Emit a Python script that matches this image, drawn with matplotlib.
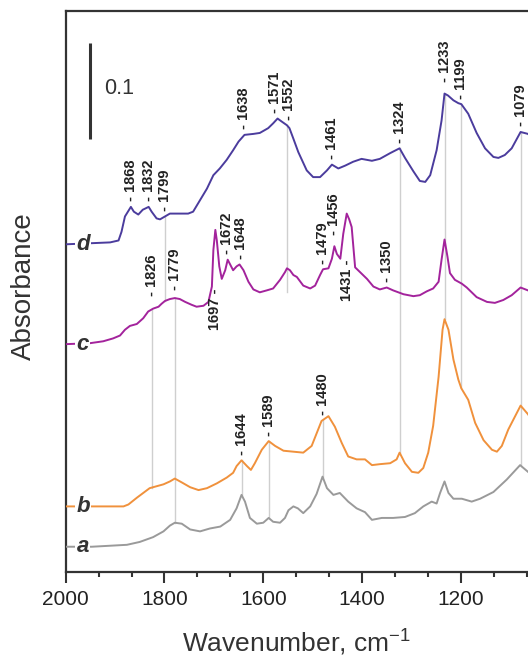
import matplotlib
matplotlib.use('Agg')
import matplotlib.pyplot as plt
import numpy as np
from matplotlib.ticker import MultipleLocator, AutoMinorLocator

plt.rcParams['font.family'] = ['Liberation Sans', 'DejaVu Sans']
plt.rcParams['mathtext.fontset'] = 'custom'
plt.rcParams['mathtext.rm'] = 'Liberation Sans'

# spectra (wavenumber, cm-1 / absorbance above own baseline)
wn_a = [2000, 1947, 1876, 1850, 1823, 1802, 1789, 1779, 1765, 1748,
        1728, 1708, 1687, 1667, 1654, 1644, 1637, 1627, 1613, 1600,
        1589, 1580, 1566, 1556, 1549, 1539, 1530, 1519, 1505, 1492,
        1480, 1471, 1458, 1445, 1428, 1411, 1394, 1380, 1360, 1337,
        1313, 1293, 1276, 1259, 1249, 1242, 1233, 1225, 1215, 1198,
        1178, 1161, 1134, 1107, 1080, 1064, 1050]
abs_a = [0, 0, 0.002, 0.005, 0.010, 0.016, 0.022, 0.025, 0.024, 0.018,
         0.016, 0.019, 0.021, 0.028, 0.040, 0.054, 0.047, 0.030, 0.024, 0.025,
         0.030, 0.026, 0.025, 0.030, 0.038, 0.042, 0.040, 0.035, 0.042, 0.055,
         0.073, 0.061, 0.054, 0.056, 0.047, 0.040, 0.036, 0.028, 0.030, 0.030,
         0.031, 0.035, 0.042, 0.047, 0.045, 0.056, 0.068, 0.056, 0.050, 0.050,
         0.047, 0.050, 0.057, 0.070, 0.085, 0.078, 0.072]

wn_b = [2000, 1947, 1883, 1873, 1856, 1843, 1830, 1816, 1802, 1789,
        1779, 1765, 1748, 1731, 1714, 1694, 1674, 1661, 1654, 1644,
        1633, 1625, 1617, 1603, 1589, 1576, 1559, 1539, 1519, 1502,
        1492, 1482, 1468, 1455, 1441, 1428, 1411, 1394, 1380, 1364,
        1343, 1330, 1324, 1313, 1299, 1286, 1276, 1266, 1256, 1245,
        1237, 1233, 1225, 1215, 1205, 1199, 1185, 1171, 1154, 1137,
        1127, 1117, 1104, 1090, 1079, 1064, 1050]
abs_b = [0, 0, 0, 0.002, 0.009, 0.014, 0.019, 0.021, 0.023, 0.026,
         0.029, 0.025, 0.020, 0.017, 0.019, 0.024, 0.030, 0.035, 0.042, 0.048,
         0.042, 0.038, 0.045, 0.059, 0.068, 0.063, 0.058, 0.057, 0.056, 0.063,
         0.076, 0.089, 0.094, 0.083, 0.066, 0.052, 0.049, 0.049, 0.043, 0.044,
         0.045, 0.049, 0.056, 0.045, 0.036, 0.035, 0.040, 0.056, 0.084, 0.135,
         0.184, 0.195, 0.184, 0.153, 0.132, 0.123, 0.111, 0.087, 0.069, 0.059,
         0.057, 0.063, 0.080, 0.094, 0.105, 0.096, 0.085]

wn_c = [2000, 1951, 1924, 1904, 1890, 1880, 1870, 1856, 1843, 1833,
        1823, 1812, 1806, 1799, 1789, 1779, 1769, 1758, 1745, 1735,
        1721, 1711, 1704, 1701, 1697, 1694, 1689, 1684, 1677, 1672,
        1666, 1661, 1654, 1648, 1640, 1630, 1620, 1607, 1593, 1580,
        1566, 1556, 1552, 1546, 1539, 1532, 1519, 1505, 1495, 1485,
        1479, 1468, 1461, 1456, 1451, 1444, 1438, 1431, 1426, 1421,
        1414, 1404, 1390, 1377, 1364, 1350, 1337, 1316, 1296, 1283,
        1269, 1256, 1245, 1239, 1233, 1227, 1222, 1212, 1198, 1188,
        1168, 1147, 1131, 1114, 1097, 1079, 1064, 1050]
abs_c = [0, 0.001, 0.003, 0.006, 0.009, 0.015, 0.019, 0.021, 0.027, 0.034,
         0.037, 0.039, 0.042, 0.045, 0.047, 0.048, 0.047, 0.044, 0.041, 0.039,
         0.040, 0.044, 0.060, 0.098, 0.119, 0.108, 0.081, 0.068, 0.077, 0.088,
         0.082, 0.077, 0.081, 0.083, 0.077, 0.065, 0.057, 0.054, 0.056, 0.058,
         0.067, 0.075, 0.079, 0.077, 0.072, 0.070, 0.061, 0.058, 0.061, 0.072,
         0.078, 0.079, 0.089, 0.102, 0.094, 0.089, 0.115, 0.136, 0.130, 0.122,
         0.080, 0.075, 0.068, 0.060, 0.057, 0.059, 0.056, 0.052, 0.050, 0.051,
         0.055, 0.058, 0.065, 0.088, 0.109, 0.091, 0.074, 0.067, 0.063, 0.059,
         0.049, 0.044, 0.043, 0.046, 0.051, 0.059, 0.056, 0.052]

wn_d = [2000, 1910, 1893, 1887, 1880, 1868, 1862, 1853, 1844, 1832,
        1826, 1816, 1809, 1799, 1789, 1769, 1752, 1742, 1728, 1714,
        1701, 1688, 1674, 1661, 1650, 1638, 1620, 1607, 1590, 1580,
        1571, 1563, 1552, 1547, 1539, 1529, 1512, 1499, 1485, 1471,
        1461, 1448, 1434, 1418, 1401, 1380, 1364, 1343, 1324, 1313,
        1296, 1283, 1272, 1262, 1249, 1239, 1233, 1226, 1215, 1205,
        1199, 1185, 1168, 1151, 1134, 1124, 1111, 1097, 1079, 1064,
        1050]
abs_d = [0, 0.002, 0.004, 0.013, 0.029, 0.039, 0.034, 0.031, 0.036, 0.039,
         0.034, 0.027, 0.026, 0.029, 0.032, 0.032, 0.032, 0.034, 0.046, 0.058,
         0.072, 0.079, 0.088, 0.098, 0.107, 0.114, 0.115, 0.116, 0.121, 0.126,
         0.131, 0.128, 0.124, 0.121, 0.110, 0.096, 0.077, 0.070, 0.070, 0.077,
         0.083, 0.079, 0.082, 0.086, 0.089, 0.087, 0.089, 0.095, 0.100, 0.090,
         0.076, 0.066, 0.065, 0.072, 0.098, 0.129, 0.157, 0.155, 0.150, 0.147,
         0.146, 0.136, 0.116, 0.100, 0.091, 0.090, 0.093, 0.100, 0.117, 0.115,
         0.108]

names = ['a', 'b', 'c', 'd']
offsets = [0.026, 0.068, 0.237, 0.341]
colors = ['#9a9a9a', '#f0913c', '#a3239c', '#4b3c9d']

# marked bands: wavenumber and the spectrum they belong to
label_wn = [1868, 1832, 1799, 1638, 1571, 1552, 1461, 1324, 1233, 1199, 1079,
            1826, 1779, 1697, 1672, 1648, 1479, 1456, 1431, 1350,
            1644, 1589, 1480]
label_on = ['d'] * 11 + ['c'] * 9 + ['b'] * 3
label_below = [1697, 1431]

# thin guides linking a band across spectra
guide_wn = [1799, 1552, 1324, 1233, 1199, 1079, 1826, 1779, 1644, 1589, 1480]
guide_top = ['d', 'd', 'd', 'd', 'd', 'd', 'c', 'c', 'b', 'b', 'b']
guide_bot = ['c', 'c', 'b', 'b', 'b', 'a', 'b', 'a', 'a', 'a', 'a']

spectra = {'a': (wn_a, abs_a), 'b': (wn_b, abs_b), 'c': (wn_c, abs_c), 'd': (wn_d, abs_d)}

# small nudges (points) so that crowded labels sit apart
nudge = {1571: (-2.2, 0), 1552: (1.8, 0), 1672: (-0.8, 0), 1648: (1.0, 0),
         1233: (0, 4.5), 1826: (0, 5.5), 1456: (0, 4), 1779: (0, 1.5)}


def level(name, w):
    x, y = spectra[name]
    x = np.array(x)[::-1]
    y = np.array(y)[::-1]
    return np.interp(w, x, y) + offsets[names.index(name)]


fig = plt.figure(figsize=(5.28, 6.6), dpi=100)
ax = fig.add_axes([0.1244, 0.1338, 0.8756, 0.8495])

for w, t, b in zip(guide_wn, guide_top, guide_bot):
    lo = level(b, w)
    if w == 1552:
        lo -= 0.025
    ax.plot([w, w], [lo, level(t, w)], color='#cfcfcf', lw=1.0, zorder=1)

for n, off, col in zip(names, offsets, colors):
    x, y = spectra[n]
    ax.plot(x, np.array(y) + off, color=col, lw=1.4, zorder=3,
            solid_joinstyle='round')
    ax.text(1965, off, n, ha='center', va='center', fontsize=16,
            fontstyle='italic', fontweight='bold', color='#333333', zorder=4,
            bbox=dict(facecolor='white', edgecolor='none', pad=1.0))

for w, n in zip(label_wn, label_on):
    dx, dy = nudge.get(w, (0, 0))
    if w in label_below:
        ax.annotate(f'{w} -', xy=(w, level(n, w)),
                    xytext=(dx, -42 if w == 1697 else -33),
                    textcoords='offset points', rotation=90, ha='center', va='top',
                    fontsize=10.5, fontweight='bold', color='#222222', zorder=5)
    else:
        ax.annotate(f'- {w}', xy=(w, level(n, w)), xytext=(dx, 4 + dy),
                    textcoords='offset points', rotation=90, ha='center', va='bottom',
                    fontsize=10.5, fontweight='bold', color='#222222', zorder=5)

# 0.1 absorbance scale bar
ax.plot([1951, 1951], [0.451, 0.551], color='#333333', lw=2.2, solid_capstyle='butt')
ax.text(1922, 0.503, '0.1', ha='left', va='center', fontsize=15.5, color='#333333')

ax.set_xlim(2000, 1064)
ax.set_ylim(0, 0.584)
ax.xaxis.set_major_locator(MultipleLocator(200))
ax.xaxis.set_minor_locator(AutoMinorLocator(3))
ax.tick_params(axis='x', which='major', direction='out', length=8, width=1.5,
               colors='#333333', labelsize=15, pad=5)
ax.tick_params(axis='x', which='minor', direction='out', length=3.8, width=1.5,
               colors='#333333')
ax.tick_params(axis='x', labelcolor='#222222')
ax.set_yticks([])
ax.spines['right'].set_visible(False)
for s in ['left', 'bottom', 'top']:
    ax.spines[s].set_color('#333333')
    ax.spines[s].set_linewidth(1.6)

ax.set_xlabel(r'Wavenumber, cm$^{\mathregular{-1}}$', fontsize=19, color='#333333')
ax.set_ylabel('Absorbance', fontsize=20, color='#333333')
ax.xaxis.set_label_coords(0.5, -0.097)
ax.yaxis.set_label_coords(-0.062, 0.51)

fig.savefig('out.png', dpi=100)
